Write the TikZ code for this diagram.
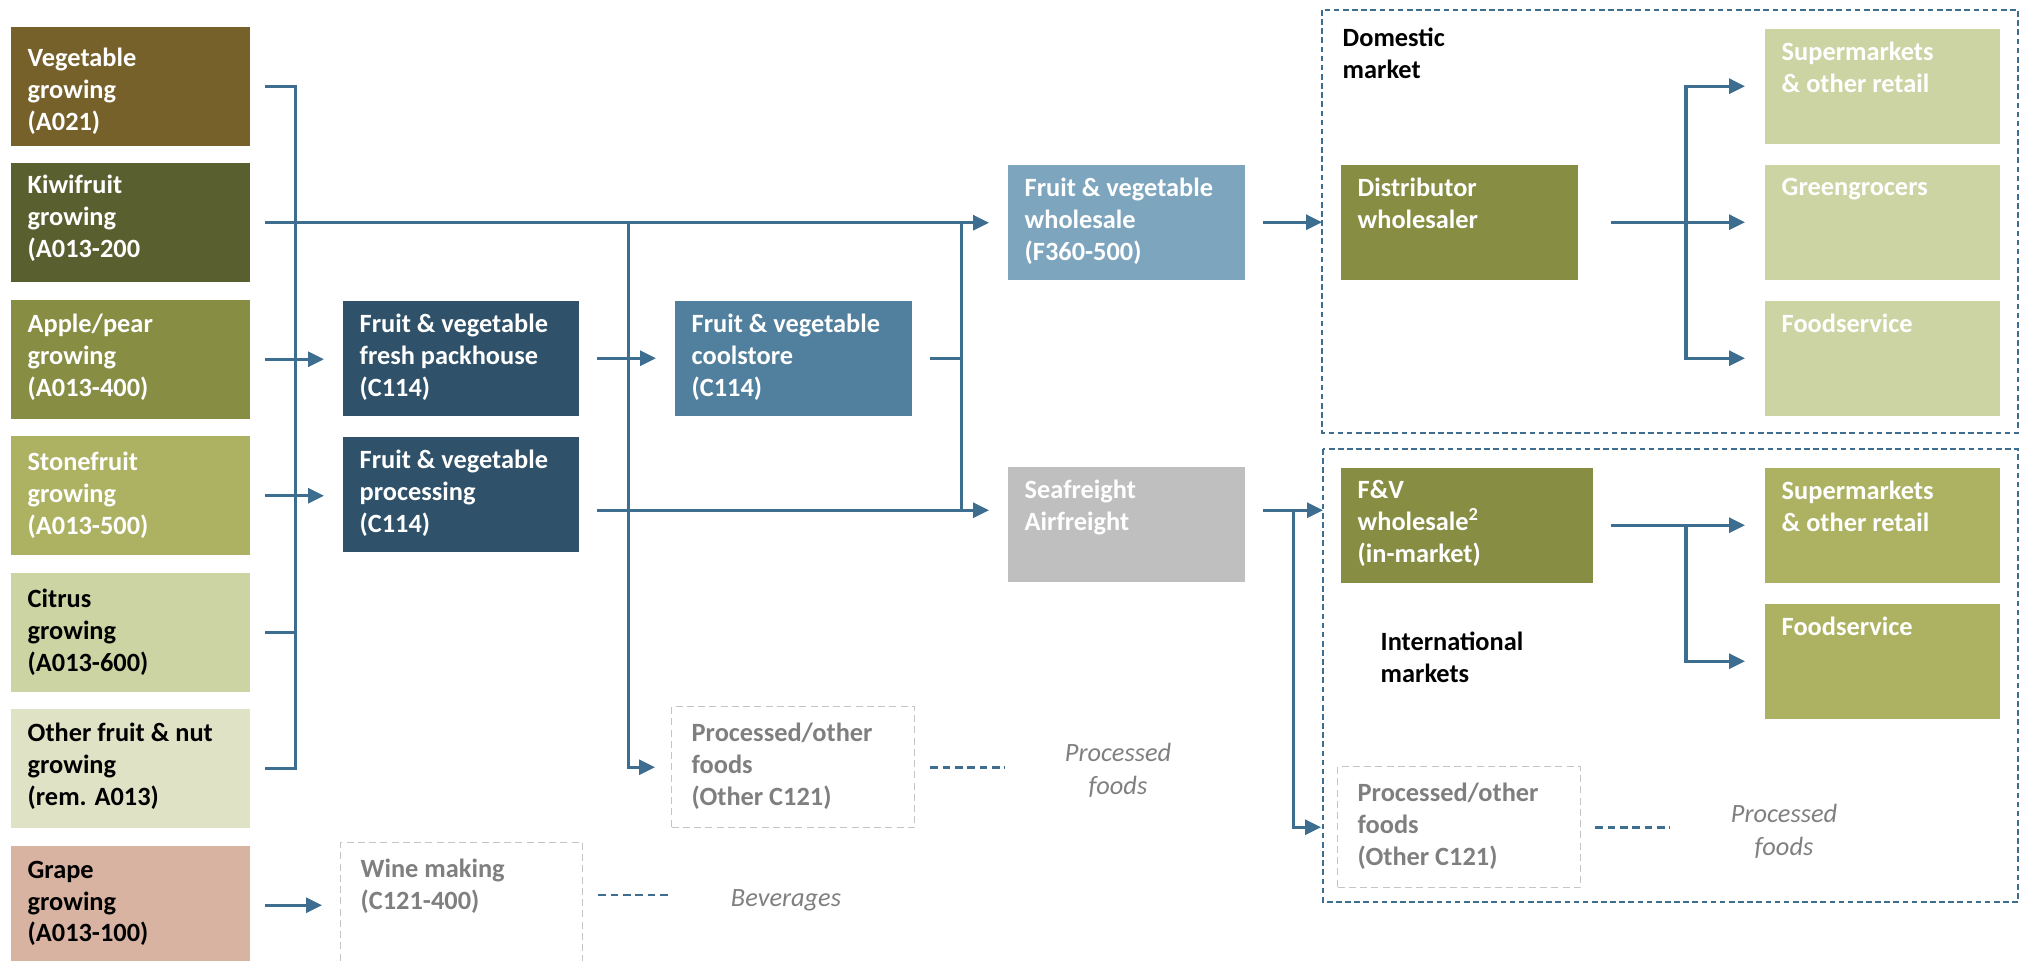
\documentclass[tikz,border=0pt]{standalone}
\usepackage{fontspec}
\setmainfont{Carlito}
\usetikzlibrary{arrows.meta}
\definecolor{vegcol}{HTML}{76612A}
\definecolor{kiwicol}{HTML}{5A5F2F}
\definecolor{applecol}{HTML}{878E43}
\definecolor{stonecol}{HTML}{ADB263}
\definecolor{citruscol}{HTML}{CDD4A4}
\definecolor{othercol}{HTML}{DFE2C5}
\definecolor{grapecol}{HTML}{D8B3A1}
\definecolor{darkblue}{HTML}{2F5169}
\definecolor{coolblue}{HTML}{517F9E}
\definecolor{lightblue}{HTML}{7EA5BE}
\definecolor{freightgray}{HTML}{BFBFBF}
\definecolor{ghostgray}{HTML}{C4C4C4}
\definecolor{ghosttext}{HTML}{7F7F7F}
\definecolor{lineblue}{HTML}{3D6E8F}
\begin{document}
\begin{tikzpicture}[x=1cm,y=-1cm,
	box/.style={anchor=north west,inner sep=0,minimum width=2.37cm,minimum height=1.15cm},
	txt/.style={anchor=north west,align=left,inner xsep=0.17cm,inner ysep=0.13cm,font=\bfseries\fontsize{7.5}{9.1}\selectfont,text=white},
	gtxt/.style={txt,text=ghosttext,inner xsep=0.2cm,inner ysep=0.16cm},
	ghost/.style={box,draw=ghostgray,dash pattern=on 2pt off 1.2pt,line width=0.4pt,minimum width=2.43cm,minimum height=1.21cm},
	conn/.style={lineblue,line width=0.9pt},
	flow/.style={conn,-{Triangle[length=0.16cm,width=0.15cm]}},
	dline/.style={lineblue,line width=0.8pt,dash pattern=on 2.2pt off 1.3pt},
	region/.style={draw=lineblue,line width=0.4pt,dash pattern=on 1.6pt off 1pt},
	note/.style={align=center,inner sep=0,text=ghosttext,font=\itshape\fontsize{7.5}{9.4}\selectfont}]
	\useasboundingbox (0,0) rectangle (20.24,9.60);

	% growers
	\foreach \n/\c/\k/\ys/\lab [count=\i from 0] in {veg/vegcol/white/0.21/{Vegetable\\growing\\(A021)},
		kiwi/kiwicol/white/0.12/{Kiwifruit\\growing\\(A013-200},
		apple/applecol/white/0.14/{Apple/pear\\growing\\(A013-400)},
		stone/stonecol/white/0.16/{Stonefruit\\growing\\(A013-500)},
		citrus/citruscol/black/0.16/{Citrus\\growing\\(A013-600)},
		other/othercol/black/0.14/{Other fruit \& nut\\growing\\(rem. A013)},
		grape/grapecol/black/0.15/{Grape\\growing\\(A013-100)}}
		\node[box,minimum width=2.39cm,minimum height=1.19cm,fill=\c,label={[txt,text=\k,inner ysep=\ys cm]north west:\lab}] (\n) at ({0.10},{0.26+1.365*\i}) {};

	\node[box,fill=darkblue,minimum width=2.36cm,label={[txt]north west:Fruit \& vegetable\\fresh packhouse\\(C114)}] (pack) at (3.42,3.00) {};
	\node[box,fill=darkblue,minimum width=2.36cm,label={[txt]north west:Fruit \& vegetable\\processing\\(C114)}] (proc) at (3.42,4.36) {};
	\node[ghost,minimum width=2.42cm,minimum height=1.25cm,label={[gtxt]north west:Wine making\\(C121-400)}] (wine) at (3.40,8.42) {};
	\node[box,fill=coolblue,label={[txt]north west:Fruit \& vegetable\\coolstore\\(C114)}] (cool) at (6.74,3.00) {};
	\node[ghost,label={[gtxt]north west:Processed/other\\foods\\(Other C121)}] (procA) at (6.71,7.06) {};
	\node[box,fill=lightblue,label={[txt]north west:Fruit \& vegetable\\wholesale\\(F360-500)}] (fvw) at (10.07,1.64) {};
	\node[box,fill=freightgray,label={[txt]north west:Seafreight\\Airfreight}] (sea) at (10.07,4.66) {};

	% markets
	\draw[region] (13.22,0.10) rectangle (20.18,4.33);
	\draw[region] (13.23,4.49) rectangle (20.18,9.02);
	\node[anchor=north west,align=left,inner sep=0,font=\bfseries\fontsize{7.5}{9.1}\selectfont] (domlab) at (13.42,0.27) {Domestic\\market};
	\node[anchor=north west,align=left,inner sep=0,font=\bfseries\fontsize{7.5}{9.1}\selectfont] (intlab) at (13.80,6.31) {International\\markets};
	\node[box,fill=applecol,label={[txt]north west:Distributor\\wholesaler}] (dist) at (13.40,1.64) {};
	\node[box,fill=citruscol,minimum width=2.35cm,label={[txt]north west:Supermarkets\\\& other retail}] (superD) at (17.64,0.28) {};
	\node[box,fill=citruscol,minimum width=2.35cm,label={[txt]north west:Greengrocers}] (green) at (17.64,1.64) {};
	\node[box,fill=citruscol,minimum width=2.35cm,label={[txt]north west:Foodservice}] (foodD) at (17.64,3.00) {};
	\node[box,fill=applecol,minimum width=2.52cm,label={[txt]north west:F\&V\\wholesale\textsuperscript{2}\\(in-market)}] (fvw2) at (13.40,4.67) {};
	\node[box,fill=stonecol,minimum width=2.35cm,label={[txt]north west:Supermarkets\\\& other retail}] (superI) at (17.64,4.67) {};
	\node[box,fill=stonecol,minimum width=2.35cm,label={[txt]north west:Foodservice}] (foodI) at (17.64,6.03) {};
	\node[ghost,label={[gtxt]north west:Processed/other\\foods\\(Other C121)}] (procB) at (13.37,7.66) {};

	\node[note] (pfA) at (11.18,7.70) {Processed\\foods};
	\node[note] (bev) at (7.86,9.00) {Beverages};
	\node[note] (pfB) at (17.84,8.31) {Processed\\foods};

	% connectors
	\coordinate (busA) at ([xshift=0.45cm]veg.east);
	\coordinate (busB) at ([xshift=0.49cm]pack.east);
	\coordinate (busC) at ([xshift=0.49cm]cool.east);
	\coordinate (busD) at ([xshift=-0.78cm]green.west);
	\coordinate (busE) at ([xshift=0.48cm]sea.east);
	\draw[conn] ([xshift=0.15cm]veg.east) -| (busA |- other.east) -- ([xshift=0.15cm]other.east);
	\draw[conn] ([xshift=0.15cm]citrus.east) -- (busA |- citrus.east);
	\draw[flow] ([xshift=0.15cm]kiwi.east) -- ([xshift=-0.18cm]kiwi.east -| fvw.west);
	\draw[flow] ([xshift=0.15cm]apple.east) -- ([xshift=-0.18cm]apple.east -| pack.west);
	\draw[flow] ([xshift=0.15cm]stone.east) -- ([xshift=-0.18cm]stone.east -| proc.west);
	\draw[flow] ([xshift=0.15cm]grape.east) -- ([xshift=-0.18cm]grape.east -| wine.west);
	\draw[flow] (kiwi.east -| busB) |- ([xshift=-0.16cm]procA.west);
	\draw[flow] ([xshift=0.18cm]pack.east) -- ([xshift=-0.18cm]cool.west);
	\draw[flow] ([xshift=0.18cm,yshift=-0.16cm]proc.east) coordinate (pl) -- ([xshift=-0.18cm]pl -| sea.west);
	\draw[conn] (kiwi.east -| busC) -- (pl -| busC);
	\draw[conn] ([xshift=0.18cm]cool.east) -- (cool.east -| busC);
	\draw[flow] ([xshift=0.18cm]fvw.east) -- ([xshift=-0.18cm]dist.west);
	\draw[flow] ([xshift=0.33cm]dist.east) -- ([xshift=-0.19cm]green.west);
	\draw[flow] (busD |- foodD.west) |- ([xshift=-0.19cm]superD.west);
	\draw[flow] (busD |- superD.west) |- ([xshift=-0.19cm]foodD.west);
	\draw[flow] ([xshift=0.18cm]sea.east |- pl) -- ([xshift=-0.17cm]fvw2.west |- pl);
	\draw[flow] (busE |- pl) |- ([xshift=-0.16cm]procB.west);
	\draw[flow] ([xshift=0.18cm]fvw2.east) -- ([xshift=-0.19cm]superI.west);
	\draw[flow] (busD |- superI.west) |- ([xshift=-0.19cm]foodI.west);
	\draw[dline] ([xshift=0.15cm,yshift=-0.53cm]wine.north east) coordinate (wl) -- ([xshift=-0.59cm]wl -| bev.west);
	\draw[dline] ([xshift=0.15cm]procA.east) -- ([xshift=-0.59cm]procA.east -| pfA.west);
	\draw[dline] ([xshift=0.14cm]procB.east) -- ([xshift=-0.6cm]procB.east -| pfB.west);
\end{tikzpicture}
\end{document}
